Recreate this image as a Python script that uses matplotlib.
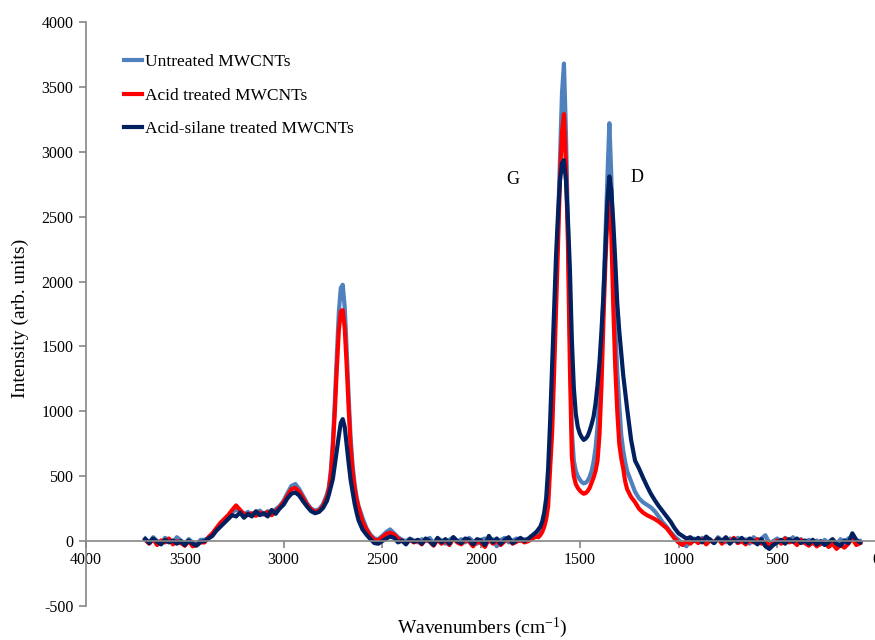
import numpy as np
import matplotlib
matplotlib.use("Agg")
import matplotlib.pyplot as plt

plt.rcParams['font.family'] = ['Liberation Serif', 'DejaVu Serif']
plt.rcParams['mathtext.default'] = 'regular'
plt.rcParams['axes.unicode_minus'] = False

# ---- data ----
# sampling positions (cm-1), descending
wavenumber = np.concatenate([
    np.arange(3700, 3419, -20),   # 15
    np.arange(3400, 2999, -20),   # 21
    np.arange(2980, 2779, -20),   # 11
    np.arange(2770, 2619, -10),   # 16
    np.arange(2600, 1719, -20),   # 45
    np.arange(1710, 1239, -10),   # 48
    np.arange(1220, 79, -20),     # 58
])

untreated = [
    # 3700-3420
    20, -10, 30, 0, -20, 25, 10, -15, 30, 5, -20, 15, -10, -25, 10,
    # 3400-3000
    10, 25, 50, 90, 120, 160, 190, 225, 240, 235, 205, 225, 200, 220, 235, 210, 230, 215, 245, 270, 310,
    # 2980-2780
    370, 425, 440, 400, 345, 290, 250, 235, 245, 285, 360,
    # 2770-2620
    420, 550, 770, 1080, 1430, 1760, 1950, 1975, 1800, 1470, 1110, 790, 580, 440, 340, 270,
    # 2600-1720
    180, 100, 50, 20, 15, 40, 70, 90, 60, 30, 10, 0, 20, 5, -10, 15, 0, 25, -15, 20, 5, -20, 10,
    30, -5, 15, -10, 25, 0, -20, 10, 20, -5, 15, -40, 10, 25, -10, 5, 20, 0, 15, 10, 35, 60,
    # 1710-1240
    60, 75, 100, 150, 230, 380, 680, 1050, 1550, 2000, 2450, 2950, 3450, 3680, 3150, 2450, 1600,
    850, 620, 540, 500, 475, 455, 445, 450, 465, 495, 540, 610, 720, 880, 1130, 1480, 1900,
    2350, 2800, 3220, 2800, 2150, 1650, 1300, 1050, 820, 700, 610, 540, 500, 460,
    # 1220-80
    380, 330, 300, 280, 260, 230, 190, 145, 110, 70, 35, 10, -20, -40, 10, 20, -5, 25, 0, 15,
    -15, 30, 5, -10, 20, 0, 25, -5, 15, -20, 30, 5, 20, 45, -15, 0, 20, -10, 25, 5,
    30, -5, 15, -15, 10, -20, 5, -25, 10, -15, 0, -30, 15, -10, 20, 30, -20, 0,
]

acid = [
    # 3700-3420
    10, -20, 15, -30, 5, -10, 20, -25, 0, -15, -35, 0, -40, -30, -10,
    # 3400-3000
    -10, 30, 60, 100, 140, 170, 200, 240, 275, 240, 210, 200, 215, 195, 220, 205, 225, 200, 230, 260, 300,
    # 2980-2780
    350, 400, 410, 380, 330, 280, 245, 225, 235, 270, 340,
    # 2770-2620
    400, 520, 720, 1000, 1330, 1620, 1770, 1780, 1640, 1350, 1020, 730, 540, 410, 320, 260,
    # 2600-1720
    150, 90, 40, 10, 5, 30, 55, 65, 50, 20, 0, -15, 10, -10, 5, -25, 15, -5, -35, 10, -20, 5, -30,
    20, -10, -25, 10, -5, -40, 0, -15, -45, 20, -20, 5, -30, 0, 15, -20, -5, 10, -10, 0, 20, 35,
    # 1710-1240
    30, 45, 70, 110, 170, 270, 560, 830, 1290, 1780, 2280, 2800, 3150, 3290, 2900, 2300, 1350,
    650, 500, 440, 410, 390, 375, 365, 370, 385, 410, 450, 490, 540, 620, 820, 1200, 1700,
    2150, 2500, 2670, 2350, 1800, 1330, 1000, 750, 640, 560, 460, 400, 370, 340,
    # 1220-80
    300, 250, 220, 200, 185, 170, 150, 125, 100, 60, 20, -10, -30, 0, -20, 10, -15, 15, -25, 5,
    -10, 20, -20, 10, -5, 25, -15, 0, -25, 10, -10, 15, -20, -5, -35, -15, 5, -20, 20, -10,
    0, -30, 10, -15, -35, -5, -40, -20, -10, -45, -20, -60, -30, -50, -20, 20, -30, -15,
]

acid_silane = [
    # 3700-3420
    15, -15, 20, -5, -25, 10, -10, 5, -20, 0, -30, 5, -20, -35, -5,
    # 3400-3000
    0, 20, 40, 80, 110, 140, 170, 200, 190, 220, 180, 210, 190, 230, 200, 215, 190, 240, 210, 250, 280,
    # 2980-2780
    330, 365, 375, 350, 305, 265, 230, 215, 225, 255, 310,
    # 2770-2620
    360, 420, 480, 590, 700, 810, 910, 940, 880, 740, 600, 470, 380, 290, 220, 160,
    # 2600-1720
    90, 50, 15, -15, -20, 0, 20, 35, 25, -10, 5, -25, 15, -5, 10, -20, 20, 0, -30, 25, -10, 15,
    -20, 30, 0, -15, 20, 10, -25, 15, 5, -30, 40, -10, 20, -20, 10, 30, -15, 5, 25, 0, 20, 45, 70,
    # 1710-1240
    90, 110, 150, 220, 330, 560, 920, 1350, 1800, 2200, 2520, 2780, 2910, 2935, 2780, 2480, 2100,
    1550, 1180, 980, 880, 830, 800, 780, 790, 810, 850, 900, 960, 1060, 1200, 1380, 1620, 1900,
    2250, 2620, 2810, 2700, 2450, 2150, 1830, 1620, 1450, 1280, 1150, 1020, 900, 780,
    # 1220-80
    620, 560, 490, 425, 365, 315, 270, 230, 190, 150, 100, 60, 40, 20, 30, 5, 25, -10, 35, 10,
    -15, 20, 0, 30, -20, 15, -5, 25, -10, 20, 0, -25, 15, -40, -60, -30, -10, 10, -20, 15,
    -5, 20, -15, 5, -20, 10, -25, 0, -30, -10, 15, -20, -35, 5, -15, 60, 10, -10,
]

series_labels = ["Untreated MWCNTs", "Acid treated MWCNTs", "Acid-silane treated MWCNTs"]
series_colors = ["#4F81BD", "#FF0000", "#002060"]

x_ticks = list(range(0, 4001, 500))
y_ticks = list(range(-500, 4001, 500))

# ---- figure ----
W, H = 875, 640
fig = plt.figure(figsize=(W / 100, H / 100), dpi=100)
ax = fig.add_axes([86 / W, 1 - 606 / H, (876 - 86) / W, (606 - 22) / H])

for ys, lab, col in zip([untreated, acid, acid_silane], series_labels, series_colors):
    ax.plot(wavenumber, ys, color=col, lw=3.0, label=lab, solid_joinstyle='round')

ax.set_xlim(4000, 0)
ax.set_ylim(-500, 4000)
ax.set_xticks(x_ticks)
ax.set_yticks(y_ticks)

gray = '#868686'
for s in ['top', 'right']:
    ax.spines[s].set_visible(False)
ax.spines['bottom'].set_position(('data', 0))
ax.spines['bottom'].set_color(gray)
ax.spines['left'].set_color(gray)
ax.spines['bottom'].set_linewidth(1.2)
ax.spines['left'].set_linewidth(1.2)
ax.tick_params(axis='both', direction='out', length=5, width=1.2, color=gray,
               labelsize=11.5, labelcolor='black')
ax.tick_params(axis='x', pad=3)
ax.tick_params(axis='y', pad=4)

fig.text(482 / W, 1 - 628 / H, 'Wavenumbers (cm$^{-1}$)', ha='center', va='center', fontsize=14)
fig.text(20 / W, 1 - 318 / H, 'Intensity (arb. units)', ha='center', va='center',
         rotation=90, fontsize=14)

ax.text(1840, 2785, 'G', ha='center', va='center', fontsize=13)
ax.text(1210, 2800, 'D', ha='center', va='center', fontsize=13)

leg = ax.legend(loc='upper left', bbox_to_anchor=(124 / W, 1 - 54 / H),
                bbox_transform=fig.transFigure, frameon=False, fontsize=12.5,
                handlelength=1.05, handletextpad=0.15, labelspacing=1.0,
                borderpad=0, borderaxespad=0)
for h in leg.get_lines():
    h.set_linewidth(3)

fig.savefig('out.png', dpi=100)
